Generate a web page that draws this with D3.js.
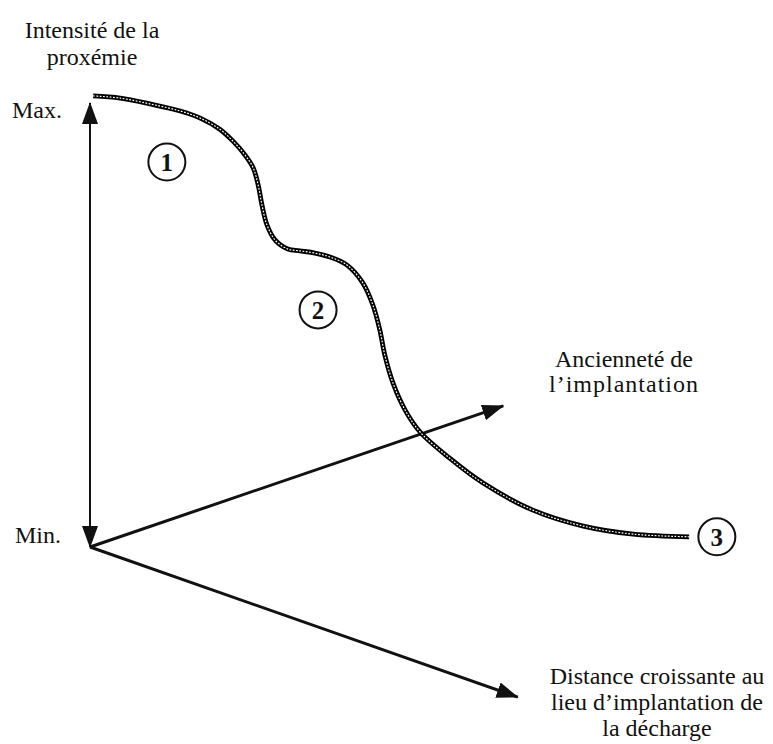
<!DOCTYPE html>
<html>
<head>
<meta charset="utf-8">
<script src="https://cdn.jsdelivr.net/npm/d3@7"></script>
<style>
  html, body { margin: 0; padding: 0; background: #fff; }
  svg text { font-family: "Liberation Serif", "Times New Roman", serif; fill: #111; }
</style>
</head>
<body>
<svg></svg>
<script>
const size = {w: 773, h: 744};
const svg = d3.select('svg')
    .attr('width', size.w)
    .attr('height', size.h);

// curve of the proxemic intensity, in abstract units (0-100)
const curveX = [0.5, 4.8, 9.5, 14.3, 17.5, 20.6, 22.7, 24.6, 25.9, 26.7, 27.3, 28.1, 29.4, 31.4, 33.3,
    35.7, 38.1, 40.8, 43.3, 44.9, 46.0, 46.8, 48.1, 50.0, 52.4, 57.1, 62.4, 70.3, 78.3, 86.2, 95.1];
const curveY = [101.6, 101.1, 99.8, 98.2, 96.6, 94.1, 91.4, 88.3, 85.4, 81.5, 77.0, 72.5, 69.1, 67.1, 66.7,
    66.2, 65.3, 63.5, 59.5, 54.5, 48.9, 43.2, 36.9, 30.9, 25.9, 20.0, 14.4, 8.3, 4.7, 2.9, 2.3];

// axis end points (from the origin)
const axisNames = ['intensite', 'anciennete', 'distance'];
const axisEndX = [0, 65.6, 67.9];
const axisEndY = [100, 31.8, -33.8];

// numbered phases
const phaseLabels = ['1', '2', '3'];
const phaseX = [12.2, 36.2, 99.5];
const phaseY = [86.7, 53.4, 2.3];

const x = d3.scaleLinear().domain([0, 100]).range([90, 720]);
const y = d3.scaleLinear().domain([0, 100]).range([547, 103]);

// arrow marker
const defs = svg.append('defs');
defs.append('marker')
    .attr('id', 'head')
    .attr('viewBox', '0 0 22 16')
    .attr('refX', 21)
    .attr('refY', 8)
    .attr('markerWidth', 22)
    .attr('markerHeight', 16)
    .attr('markerUnits', 'userSpaceOnUse')
    .attr('orient', 'auto-start-reverse')
    .append('path')
    .attr('d', 'M0,0 L22,8 L0,16 Z')
    .attr('fill', '#111');

// axes
const axesG = svg.append('g').classed('axes', true);
axisNames.forEach((name, i) => {
    axesG.append('line')
        .attr('x1', x(0)).attr('y1', y(0))
        .attr('x2', x(axisEndX[i])).attr('y2', y(axisEndY[i]))
        .attr('stroke', '#111')
        .attr('stroke-width', i === 0 ? 2 : 3)
        .attr('marker-end', 'url(#head)')
        .attr('marker-start', i === 0 ? 'url(#head)' : null);
});

// beaded curve: dark thick line with white dashes inside
const pts = curveX.map((d, i) => [d, curveY[i]]);
const line = d3.line()
    .x(d => x(d[0]))
    .y(d => y(d[1]))
    .curve(d3.curveCatmullRom.alpha(0.5));

const curveG = svg.append('g').classed('curve', true);
curveG.append('path')
    .attr('d', line(pts))
    .attr('fill', 'none')
    .attr('stroke', '#000')
    .attr('stroke-width', 4.8);
curveG.append('path')
    .attr('d', line(pts))
    .attr('fill', 'none')
    .attr('stroke', '#fff')
    .attr('stroke-width', 1.2)
    .attr('stroke-dasharray', '1.8 1.5');

// circled numbers
const phaseG = svg.append('g').classed('phases', true)
    .selectAll('g')
    .data(phaseLabels)
    .join('g')
    .attr('transform', (d, i) => `translate(${x(phaseX[i])},${y(phaseY[i])})`);
phaseG.append('circle')
    .attr('r', 18.5)
    .attr('fill', '#fff')
    .attr('stroke', '#111')
    .attr('stroke-width', 2);
phaseG.append('text')
    .attr('text-anchor', 'middle')
    .attr('dy', '0.36em')
    .attr('font-size', 25)
    .attr('font-weight', 'bold')
    .text(d => d);

// text labels
function label(lines, cx, y0, anchor, spacing = 26, ls = 0) {
    const t = svg.append('text')
        .attr('font-size', 24)
        .attr('text-anchor', anchor);
    lines.forEach((s, i) => {
        t.append('tspan')
            .attr('x', cx)
            .attr('y', y0 + i * spacing)
            .attr('letter-spacing', i > 0 ? ls : 0)
            .text(s);
    });
}
label(['Intensité de la', 'proxémie'], 92, 38, 'middle', 27);
label(['Max.'], 12, 118, 'start');
label(['Min.'], 15, 543, 'start');
label(['Ancienneté de', 'l\u2019implantation'], 624, 367, 'middle', 25, 1);
label(['Distance croissante au', 'lieu d\u2019implantation de', 'la décharge'], 657, 684, 'middle', 26);
</script>
</body>
</html>
